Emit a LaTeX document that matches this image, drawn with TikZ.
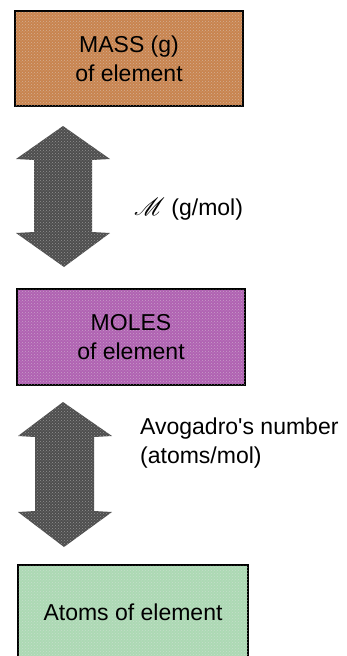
\documentclass[tikz,border=0pt]{standalone}
\usepackage{mathrsfs}
\usepackage{fontspec}
\setmainfont{Liberation Sans}
\usetikzlibrary{patterns}
\definecolor{massfill}{HTML}{C8844F}
\definecolor{molefill}{HTML}{B062B2}
\definecolor{atomfill}{HTML}{ACD9B4}
\definecolor{arrowfill}{HTML}{4E4E4E}
\begin{document}
\begin{tikzpicture}[x=1pt,y=-1pt,
  box/.style={draw=black,line width=1.6pt,inner sep=0pt},
  dots/.style={pattern=crosshatch dots,pattern color=white!80!gray,opacity=0.45},
  bigarrow/.style={fill=arrowfill,draw=none},
  lbl/.style={font=\fontsize{23}{29}\selectfont,align=center,inner sep=0pt},
  side/.style={font=\fontsize{23}{29}\selectfont,align=left,inner sep=0pt,anchor=base west}]
\useasboundingbox (0,0) rectangle (347,656);
\clip (0,0) rectangle (347,656);
% boxes
\path[box,fill=massfill] (15,11) rectangle (243,106);
\fill[dots] (15,11) rectangle (243,106);
\node[box,draw=none,minimum width=228pt,minimum height=95pt] (mass) at (129,58.5) {};
\node[lbl] at (mass.center) {MASS (g)\\of element};
\path[box,fill=molefill] (17,289) rectangle (245,385);
\fill[dots] (17,289) rectangle (245,385);
\node[box,draw=none,minimum width=228pt,minimum height=96pt] (moles) at (131,337) {};
\node[lbl] at (moles.center) {MOLES\\of element};
\path[box,fill=atomfill] (18,565) rectangle (248,662);
\fill[dots] (18,565) rectangle (248,662);
\node[box,draw=none,minimum width=230pt,minimum height=97pt] (atoms) at (133,613.5) {};
\node[lbl,anchor=base] at (133,620) {Atoms of element};
% arrows
\coordinate (a1top) at (63,126);
\coordinate (a1bot) at (64,267);
\path[bigarrow] (a1top) -- (110,159) -- (92,160) -- (92,232) -- (110,233) -- (a1bot)
  -- (16,233) -- (34,232) -- (34,160) -- (16,159) -- cycle;
\fill[dots] (a1top) -- (110,159) -- (92,160) -- (92,232) -- (110,233) -- (a1bot)
  -- (16,233) -- (34,232) -- (34,160) -- (16,159) -- cycle;
\coordinate (a2top) at (63,402);
\coordinate (a2bot) at (64,547);
\path[bigarrow] (a2top) -- (112,436) -- (94,437) -- (94,511) -- (112,512) -- (a2bot)
  -- (18,512) -- (35,511) -- (35,437) -- (18,436) -- cycle;
\fill[dots] (a2top) -- (112,436) -- (94,437) -- (94,511) -- (112,512) -- (a2bot)
  -- (18,512) -- (35,511) -- (35,437) -- (18,436) -- cycle;
% labels
\node[side] (mlabel) at (134,215) {$\mathscr{M}$ (g/mol)};
\node[side] (avog) at (140,463) {Avogadro\textquotesingle s number\\(atoms/mol)};
\end{tikzpicture}
\end{document}
